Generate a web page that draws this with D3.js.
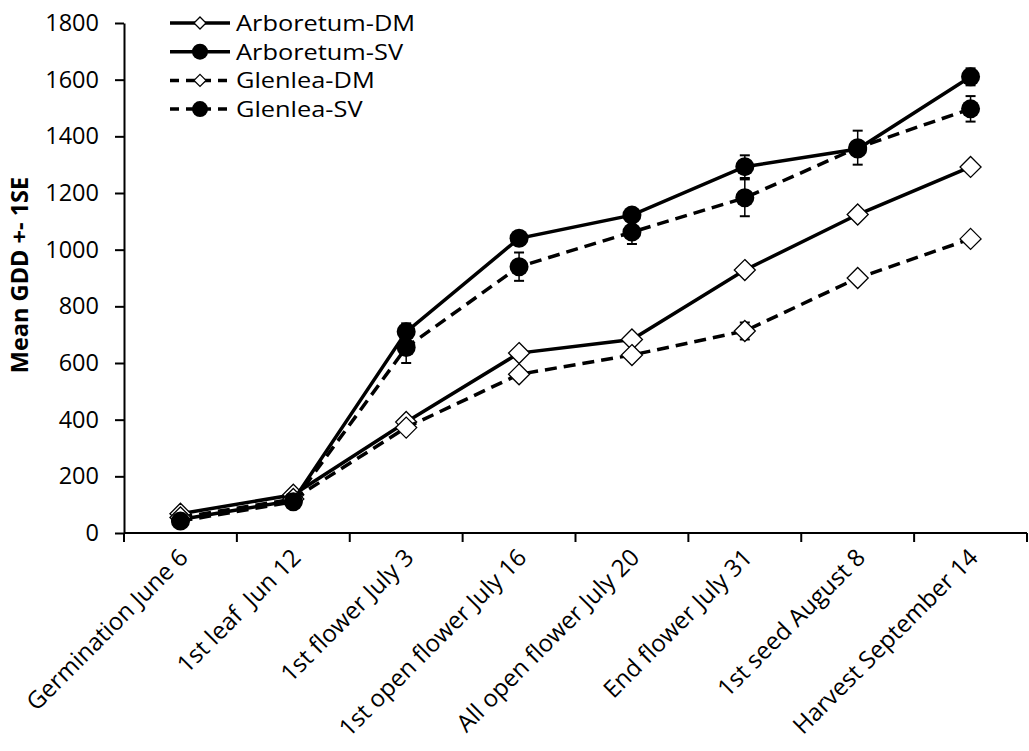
<!DOCTYPE html>
<html>
<head>
<meta charset="utf-8">
<script src="https://cdn.jsdelivr.net/npm/d3@7"></script>
<style>
  body { margin: 0; background: #fff; }
  text { font-family: "Open Sans", "Noto Sans", sans-serif; fill: #000; white-space: pre; }
</style>
</head>
<body>
<div id="plot-container"></div>
<script>
// data
const stages = ["Germination June 6", "1st leaf  Jun 12", "1st flower July 3", "1st open flower July 16",
                "All open flower July 20", "End flower July 31", "1st seed August 8", "Harvest September 14"];
const arbDM = [68, 135, 392, 635, 683, 928, 1124, 1292];
const arbDMse = [5, 5, 12, 12, 10, 15, 12, 12];
const arbSV = [48, 115, 710, 1040, 1122, 1293, 1355, 1610];
const arbSVse = [5, 5, 30, 20, 18, 40, 20, 30];
const glenDM = [55, 120, 372, 560, 628, 713, 900, 1038];
const glenDMse = [5, 5, 12, 12, 10, 30, 12, 12];
const glenSV = [42, 110, 655, 940, 1062, 1183, 1360, 1497];
const glenSVse = [5, 5, 55, 50, 42, 65, 60, 45];
const yTicks = [0, 200, 400, 600, 800, 1000, 1200, 1400, 1600, 1800];

const series = [
  {name: "Arboretum-DM", values: arbDM, se: arbDMse, dashed: false, marker: "diamond"},
  {name: "Arboretum-SV", values: arbSV, se: arbSVse, dashed: false, marker: "circle"},
  {name: "Glenlea-DM", values: glenDM, se: glenDMse, dashed: true, marker: "diamond"},
  {name: "Glenlea-SV", values: glenSV, se: glenSVse, dashed: true, marker: "circle"}
];

const W = 1029, H = 751;
const margin = {top: 23, right: 2, bottom: 218, left: 124};
const width = W - margin.left - margin.right,
      height = H - margin.top - margin.bottom;

const svg = d3.select("#plot-container")
  .append("svg")
    .attr("width", W)
    .attr("height", H)
  .append("g")
    .attr("transform", `translate(${margin.left},${margin.top})`);

const x = d3.scaleBand().domain(stages).range([0, width]);
const y = d3.scaleLinear().domain([0, 1800]).range([height, 0]);
const cx = d => x(d) + x.bandwidth() / 2;

// y axis
const yAxis = svg.append("g")
  .call(d3.axisLeft(y).tickValues(yTicks).tickFormat(d3.format("d"))
    .tickSize(9).tickPadding(16).tickSizeOuter(0));
yAxis.select(".domain").attr("stroke-width", 2);
yAxis.selectAll(".tick line").attr("stroke-width", 2);
yAxis.selectAll(".tick text").attr("font-size", 23.5).attr("font-family", "Open Sans");

// x axis with ticks between categories
const xg = svg.append("g").attr("transform", `translate(0,${height})`);
xg.append("line").attr("x1", 0).attr("x2", width).attr("stroke", "#000").attr("stroke-width", 2);
xg.selectAll("line.tk")
  .data(d3.range(stages.length + 1))
  .enter().append("line")
    .attr("class", "tk")
    .attr("x1", i => i * x.step()).attr("x2", i => i * x.step())
    .attr("y1", 0).attr("y2", 9)
    .attr("stroke", "#000").attr("stroke-width", 2);
xg.selectAll("text")
  .data(stages)
  .enter().append("text")
    .attr("transform", d => `translate(${cx(d) + 9},${26}) rotate(-45)`)
    .attr("text-anchor", "end")
    .attr("font-size", 24)
    .text(d => d);

// y label
svg.append("text")
  .attr("transform", "rotate(-90)")
  .attr("x", -252)
  .attr("y", -margin.left + 28)
  .attr("text-anchor", "middle")
  .attr("font-size", 23.5)
  .attr("font-weight", "bold")
  .text("Mean GDD +- 1SE");

const line = d3.line().x((d, i) => cx(stages[i])).y(d => y(d));
const diamond = r => `M0,${-r}L${r},0L0,${r}L${-r},0Z`;

function drawMarker(g, type) {
  if (type === "diamond") {
    g.append("path").attr("d", diamond(10.5)).attr("fill", "#fff").attr("stroke", "#000").attr("stroke-width", 1.3);
  } else {
    g.append("circle").attr("r", 9.5).attr("fill", "#000");
  }
}

series.forEach(s => {
  const g = svg.append("g");
  // error bars
  s.values.forEach((v, i) => {
    const px = cx(stages[i]);
    g.append("line").attr("x1", px).attr("x2", px)
      .attr("y1", y(v - s.se[i])).attr("y2", y(v + s.se[i]))
      .attr("stroke", "#000").attr("stroke-width", 1.5);
    [v - s.se[i], v + s.se[i]].forEach(e => {
      g.append("line").attr("x1", px - 5).attr("x2", px + 5)
        .attr("y1", y(e)).attr("y2", y(e))
        .attr("stroke", "#000").attr("stroke-width", 2);
    });
  });
  g.append("path")
    .datum(s.values)
    .attr("d", line)
    .attr("fill", "none")
    .attr("stroke", "#000")
    .attr("stroke-width", 3.5)
    .attr("stroke-dasharray", s.dashed ? "12,7" : null);
  s.values.forEach((v, i) => {
    const m = g.append("g").attr("transform", `translate(${cx(stages[i])},${y(v)})`);
    drawMarker(m, s.marker);
  });
});

// legend
const legend = svg.append("g").attr("transform", `translate(${170 - margin.left},0)`);
series.forEach((s, i) => {
  const row = legend.append("g").attr("transform", `translate(0,${i * 28.7})`);
  row.append("line").attr("x1", 0).attr("x2", 60)
    .attr("stroke", "#000").attr("stroke-width", 3.5)
    .attr("stroke-dasharray", s.dashed ? "9,7" : null);
  const m = row.append("g").attr("transform", "translate(30,0)");
  drawMarker(m, s.marker);
  if (s.marker === "diamond") m.select("path").attr("d", diamond(6));
  else m.select("circle").attr("r", 8);
  // reference text is a little wider than Open Sans, stretch it sideways
  row.append("text").attr("transform", "translate(66,8) scale(1.18,1)")
    .attr("font-size", 21.5).text(s.name);
});
</script>
</body>
</html>
